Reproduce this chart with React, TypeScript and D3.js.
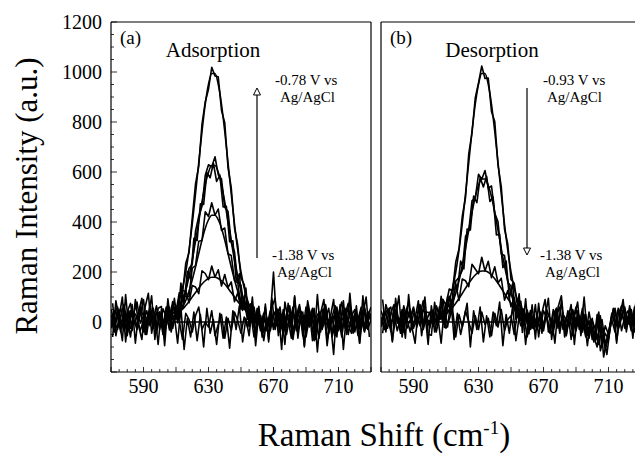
import React from "react";
import * as d3 from "d3";

// Raman shift grids for the measured spectra (cm-1)
const specStart = 570;
const specStartOdd = 571;
const specStep = 2;

// Panel (a) Adsorption – measured spectra (intensity, a.u.)
const specA1 = [30, -20, 55, 10, -35, 40, 75, -10, 20, 60, -40, 15, 50, -25, 35,
  22, -25, 55, 8, 71, 38, 117, 115, 235, 277, 417, 552, 623, 792, 881, 931, 1019, 984, 981, 846, 797, 618, 537, 377, 307, 175, 150, 57, 73, -9, 43, -25, 35, -18,
  45, -30, 20, 60, -45, 10, 35, -60, 25, 70, -20, 5, 50, -75, 15, 40, -30, 65, -10, 20, -55, 30, 80, -25, 10, 45, -40, 25, -15, 55, 0, 35];
const specA2 = [-15, 45, 20, -40, 60, 5, -25, 35, 80, -5, 25, -50, 40, 10, 65,
  -29, 53, 21, -23, 65, 44, 31, 126, 123, 214, 231, 363, 423, 463, 587, 629, 621, 661, 589, 572, 458, 443, 318, 281, 159, 148, 51, 81, 14, 60, -18, 26, -42, 16,
  -35, 25, 55, -10, 30, -50, 20, 45, -25, 60, 15, -40, 35, 5, -70, 25, 50, -15, 10, -45, 40, 20, -60, 30, 75, -30, 15, -5, 45, -35, 20, 60];
const specA3 = [50, 5, -30, 25, 70, -45, 15, 40, -20, 30, 90, -15, 20, 55, -35,
  41, -23, 35, -32, 69, 29, 10, 107, 102, 102, 215, 226, 323, 326, 441, 422, 477, 427, 452, 366, 376, 273, 266, 165, 157, 62, 97, 25, 54, -21, 33, -35, 17, -19,
  20, 200, -15, 40, -40, 25, 65, -30, 10, 50, -55, 30, -20, 45, 15, -65, 35, 70, -25, 0, 40, -35, 25, 55, -15, -45, 30, 10, 60, -20, 40, 5];
const specA4 = [-25, 35, 60, -10, 20, -55, 45, 10, -30, 50, 25, -20, 70, 5, 40,
  34, -28, 60, 10, 82, 10, 86, 59, 125, 77, 146, 140, 113, 205, 194, 169, 224, 179, 209, 144, 190, 138, 160, 81, 117, 50, 79, 11, 65, -3, 55, -20, 32, -36,
  30, -20, 45, 10, -50, 35, -5, 60, -35, 20, 40, -60, 15, 55, -25, 30, -10, 45, -45, 20, 65, -30, 5, 35, -50, 25, 50, -20, 10, -40, 30, 15];
const specA5 = [10, -40, 30, 55, -20, 15, -60, 40, 20, -35, 5, 45, -15, 25, -45,
  30, -50, 15, 60, -25, 40, 5, -70, 35, 10, -40, 25, 60, -30, 0, -20, 45, -55, -10, 30, -65, 15, -35, 40, 5, -45, 20, -20, 35, -60, 10, 25, -75, 15,
  -15, 40, 20, -40, 50, -20, 10, -70, 35, 25, -30, 60, -5, 20, -50, 40, -25, 15, 55, -60, -10, 30, -35, 45, 5, -20, 35, -55, 25, 60, -30, 10];
// odd-grid spectra (571..729)
const specA6 = [-60, 85, 10, -75, 110, -30, 70, -85, 40, 95, -50, 20, 105, -70, 55,
  62, -66, 93, -16, 95, -4, 156, 81, 203, 171, 335, 326, 473, 470, 598, 577, 635, 562, 588, 460, 463, 321, 325, 166, 193, 46, 136, -19, 100, -66, 63, -61, 72,
  -80, 60, 95, -55, 30, -90, 75, -20, 100, -65, 40, -100, 85, 15, -75, 110, -40, 50, -95, 20, 90, -60, 70, -110, 35, 80, -45, 65, -85, 105, -25, 45];
const specA7 = [75, -55, 20, 100, -80, 45, -35, 90, -15, -70, 60, 115, -45, 30, -90,
  50, -95, 70, -40, 25, -85, 60, -110, 15, -60, 40, -75, 30, -100, 55, -45, 10, -90, 35, -65, 20, -105, 45, -30, 65, -80, 15, -55, 70, -95, 40, -20, 60,
  -70, 95, -30, 50, -110, 80, 10, -65, 105, -40, 25, -95, 70, -15, 55, -120, 35, 90, -75, 5, -130, 60, -20, 85, -50, 115, -35, 45, -85, 30, 100, -60];

// Panel (b) Desorption – measured spectra
const specB1 = [20, -30, 45, 60, -15, 25, -45, 35, 5, 50, -25, 15, 70, -10, 40,
  37, -15, 65, 28, 91, 68, 132, 125, 240, 292, 422, 497, 673, 757, 896, 956, 1024, 974, 976, 841, 802, 628, 542, 372, 312, 170, 155, 62, 83, -4, 38, -30, 30, -28,
  35, -20, 50, 10, -40, 25, 60, -30, 15, 45, -55, 20, -10, 55, -45, 5, -70, -35, -90, -20, -110, -60, 10, -40, 30, 65, -25, 20, 50, -15, 40, 10];
const specB2 = [-10, 40, 15, -35, 55, 30, -20, 65, 10, -40, 35, 20, -15, 50, 25,
  -24, 48, -4, 61, -2, 71, 61, 50, 163, 179, 206, 342, 366, 485, 494, 591, 571, 606, 536, 544, 435, 401, 272, 266, 159, 143, 45, 71, 6, 53, -9, 46, -27, 21,
  -25, 45, 15, -45, 30, 55, -15, 20, -50, 40, 5, 60, -30, 25, -60, -20, 15, -75, -40, 10, -85, -50, 35, -10, 55, -35, 20, 45, -20, 60, 5, -40];
const specB3 = [45, 10, -25, 35, 70, -5, 20, -40, 50, 15, 60, -20, 30, 85, 5,
  40, -17, 62, 23, 90, 15, 103, 73, 151, 86, 172, 165, 141, 231, 212, 193, 259, 204, 243, 177, 221, 156, 175, 87, 126, 61, 98, 18, 65, -15, 48, -23, 28, -25,
  20, -35, 40, 15, -25, 55, -45, 30, 10, -20, 50, -35, 25, 5, -55, 40, -30, -60, 15, -95, -45, -70, 20, 45, -30, 15, 60, -10, 30, -40, 25, 50];
const specB4 = [-20, 25, 50, -5, 30, -35, 15, 45, -25, 10, 55, -10, 35, -30, 20,
  -15, 35, -40, 20, 50, -25, 10, 55, -60, 30, -20, 45, 0, -45, 25, -30, 40, -10, 15, -55, 35, -20, 50, -35, 10, 25, -50, 40, -15, 20, -60, 30, 5, -30,
  40, -10, 25, -35, 50, 10, -20, 35, -55, 20, 45, -25, 15, -40, 30, -65, 5, -30, 40, -80, -15, -50, 25, 55, -20, 35, -5, 20, -35, 45, 10, -25];
// odd-grid spectra (571..729)
const specB5 = [90, -40, 55, -75, 20, 105, -60, 35, 80, -20, -85, 60, 15, 100, -50,
  -53, 79, -13, 103, -22, 103, 31, 173, 126, 244, 212, 372, 368, 504, 477, 578, 540, 583, 482, 499, 348, 352, 217, 244, 96, 153, 11, 113, -42, 93, -48, 69, -68,
  75, -45, 20, 95, -70, 40, -25, 85, -60, 10, 70, -90, 45, -35, 100, -55, -20, -80, 30, -115, -60, -130, -25, 55, -75, 20, 90, -40, 65, -10, 80, -50];
const specB6 = [-45, 70, 25, -80, 95, -15, 50, -65, 110, -30, 15, 85, -55, 40, -90,
  65, -40, 20, -85, 55, -20, 90, -70, 35, -50, 10, 75, -100, 45, -30, 60, -80, 25, -60, 40, -15, 80, -95, 30, -45, 65, -75, 20, 55, -90, 35, -25, 70,
  -60, 35, 90, -40, 15, -85, 60, 105, -30, 45, -70, 20, 80, -55, 30, -95, 10, -60, -100, 25, -140, -70, -10, 50, -85, 35, 75, -30, 55, -65, 95, -20];

// Fitted curves (smooth), panel (a): start 600 cm-1, step 2
const fitAStart = 600;
const fitA1 = [2, 5, 10, 18, 31, 53, 87, 135, 200, 287, 392, 512, 638, 762, 871, 951, 994, 994, 951, 871, 762, 638, 512, 392, 287, 200, 135, 87, 53, 31, 18, 10, 5, 2];
const fitA2 = [1, 3, 6, 11, 20, 33, 55, 85, 126, 181, 247, 323, 402, 480, 549, 599, 626, 626, 599, 549, 480, 402, 323, 247, 181, 126, 85, 55, 33, 20, 11, 6, 3, 1];
const fitA3 = [1, 2, 4, 8, 13, 23, 37, 58, 86, 123, 169, 220, 274, 328, 375, 409, 427, 427, 409, 375, 328, 274, 220, 169, 123, 86, 58, 37, 23, 13, 8, 4, 2, 1];
const fitA4 = [4, 7, 9, 14, 21, 28, 39, 51, 66, 82, 100, 118, 135, 152, 165, 174, 179, 179, 174, 165, 152, 135, 118, 100, 82, 66, 51, 39, 28, 21, 14, 9, 7, 4];
const fitA5Start = 606;
const fitA5 = [0, 0, 0, 0, 0, 0, 0, 0, 0, 0, 0, 0, 0, 0, 0, 0, 0, 0, 0, 0, 0, 0, 0, 0, 0, 0, 0, 0];

// Fitted curves, panel (b): start 580 cm-1, step 2
const fitBStart = 580;
const fitB1 = [0, 0, 0, 0, 0, 0, 0, 0, 0, 1, 2, 5, 10, 18, 31, 53, 87, 135, 200, 287, 392, 512, 638, 762, 871, 951, 994, 994, 951, 871, 762, 638, 512, 392, 287, 200, 135, 87, 53, 31, 18, 10, 5, 2];
const fitB2 = [0, 0, 0, 0, 0, 0, 0, 0, 0, 1, 1, 3, 6, 10, 18, 30, 50, 78, 115, 165, 225, 294, 367, 438, 501, 547, 572, 572, 547, 501, 438, 367, 294, 225, 165, 115, 78, 50, 30, 18, 10, 6, 3, 1];
const fitB3 = [0, 0, 1, 1, 1, 2, 2, 3, 3, 4, 5, 7, 11, 16, 23, 33, 44, 58, 75, 94, 114, 135, 155, 173, 188, 199, 204, 204, 199, 188, 173, 155, 135, 114, 94, 75, 58, 44, 33, 23, 16, 11, 7, 5];
const fitB4 = [0, 0, 0, 0, 0, 0, 0, 0, 0, 0, 0, 0, 0, 0, 0, 0, 0, 0, 0, 0, 0, 0, 0, 0, 0, 0, 0, 0, 0, 0, 0, 0, 0, 0, 0, 0, 0, 0];

// Axes
const xDomain = [570, 730];
const yDomain = [-200, 1200];
const xTickLabels = [590, 630, 670, 710];
const yTickLabels = [0, 200, 400, 600, 800, 1000, 1200];

const FONT = '"Liberation Serif", "Times New Roman", Times, serif';

type Series = { start: number; step: number; values: number[]; smooth: boolean };

function toPts(s: Series): [number, number][] {
  return s.values.map((v, i) => [s.start + i * s.step, v]);
}

function Panel(props: {
  left: number;
  width: number;
  top: number;
  bottom: number;
  id: string;
  series: Series[];
  leftAxis: boolean;
  rightBorder: boolean;
}) {
  const { left, width, top, bottom, id, series, leftAxis, rightBorder } = props;
  const x = d3.scaleLinear().domain(xDomain).range([left, left + width]);
  const y = d3.scaleLinear().domain(yDomain).range([bottom, top]);
  const line = d3.line<[number, number]>().x((d) => x(d[0])).y((d) => y(d[1]));
  const smoothLine = d3
    .line<[number, number]>()
    .x((d) => x(d[0]))
    .y((d) => y(d[1]))
    .curve(d3.curveMonotoneX);
  const xMinor = d3.range(xDomain[0], xDomain[1] + 0.1, 5);
  const yMinor = d3.range(yDomain[0], yDomain[1] + 0.1, 50);
  const right = left + width;
  const tf = { fontFamily: FONT, fontSize: 20 };
  return (
    <g>
      <defs>
        <clipPath id={id}>
          <rect x={left} y={top} width={width} height={bottom - top} />
        </clipPath>
      </defs>
      <g clipPath={`url(#${id})`}>
        {series.map((s, i) => (
          <path
            key={i}
            d={(s.smooth ? smoothLine : line)(toPts(s)) || ""}
            fill="none"
            stroke="#000"
            strokeWidth={1.6}
            strokeLinejoin="round"
          />
        ))}
      </g>
      {/* frame */}
      <line x1={left} x2={left} y1={top} y2={bottom} stroke="#000" strokeWidth={1.2} />
      <line x1={left} x2={Math.min(right, 640)} y1={top} y2={top} stroke="#000" strokeWidth={1.2} />
      <line x1={left} x2={Math.min(right, 640)} y1={bottom} y2={bottom} stroke="#000" strokeWidth={1.2} />
      {rightBorder && <line x1={right} x2={right} y1={top} y2={bottom} stroke="#000" strokeWidth={1.2} />}
      {/* x ticks */}
      {xMinor.map((v) => {
        const major = (v - 570) % 20 === 0;
        return (
          <line key={"xt" + v} x1={x(v)} x2={x(v)} y1={bottom} y2={bottom - (major ? 5 : 3)} stroke="#000" strokeWidth={0.8} />
        );
      })}
      {xTickLabels.map((v) => (
        <text key={"xl" + v} x={x(v)} y={bottom + 21} textAnchor="middle" style={tf}>
          {v}
        </text>
      ))}
      {leftAxis &&
        yMinor.map((v) => {
          const major = v % 200 === 0;
          return (
            <line key={"yt" + v} x1={left} x2={left + (major ? 6 : 3)} y1={y(v)} y2={y(v)} stroke="#000" strokeWidth={0.8} />
          );
        })}
      {leftAxis &&
        yTickLabels.map((v) => (
          <text key={"yl" + v} x={left - 9} y={y(v) + 7} textAnchor="end" style={tf}>
            {v}
          </text>
        ))}
    </g>
  );
}

function Arrow(props: { x: number; yTail: number; yTip: number }) {
  const { x, yTail, yTip } = props;
  const dir = yTip < yTail ? 1 : -1; // 1 = pointing up
  const hb = yTip + dir * 7;
  return (
    <g>
      <line x1={x} x2={x} y1={yTail} y2={hb} stroke="#000" strokeWidth={1.2} />
      <path d={`M${x},${yTip} L${x - 3.5},${hb} L${x + 3.5},${hb} Z`} fill="#fff" stroke="#000" strokeWidth={1} />
    </g>
  );
}

export default function App() {
  const top = 22;
  const bottom = 372;
  const S = (start: number, values: number[], smooth = false): Series => ({ start, step: specStep, values, smooth });
  const seriesA: Series[] = [
    S(specStartOdd, specA7),
    S(specStart, specA5),
    S(specStart, specA4),
    S(specStart, specA3),
    S(specStartOdd, specA6),
    S(specStart, specA2),
    S(specStart, specA1),
    S(fitA5Start, fitA5, true),
    S(fitAStart, fitA4, true),
    S(fitAStart, fitA3, true),
    S(fitAStart, fitA2, true),
    S(fitAStart, fitA1, true),
  ];
  const seriesB: Series[] = [
    S(specStartOdd, specB6),
    S(specStart, specB4),
    S(specStart, specB3),
    S(specStartOdd, specB5),
    S(specStart, specB2),
    S(specStart, specB1),
    S(fitBStart, fitB4, true),
    S(fitBStart, fitB3, true),
    S(fitBStart, fitB2, true),
    S(fitBStart, fitB1, true),
  ];
  const ann = { fontFamily: FONT, fontSize: 15 };
  const lab = { fontFamily: FONT, fontSize: 19 };
  const ttl = { fontFamily: FONT, fontSize: 21 };
  return (
    <svg
      width={635}
      height={462}
      viewBox="0 0 635 462"
      style={{ position: "absolute", left: 0, top: 0, background: "#fff" }}
    >
      <rect x={0} y={0} width={635} height={462} fill="#fff" />
      <Panel left={111} width={260} top={top} bottom={bottom} id="clipA" series={seriesA} leftAxis={true} rightBorder={true} />
      <Panel left={381} width={260} top={top} bottom={bottom} id="clipB" series={seriesB} leftAxis={false} rightBorder={false} />

      {/* panel labels */}
      <text x={120} y={44} style={lab}>(a)</text>
      <text x={213} y={57} textAnchor="middle" style={ttl}>Adsorption</text>
      <text x={390} y={44} style={lab}>(b)</text>
      <text x={492} y={57} textAnchor="middle" style={ttl}>Desorption</text>

      {/* annotations panel a */}
      <text x={275} y={85} style={ann}>-0.78 V vs</text>
      <text x={280} y={102} style={ann}>Ag/AgCl</text>
      <text x={272} y={260} style={ann}>-1.38 V vs</text>
      <text x={277} y={277} style={ann}>Ag/AgCl</text>
      <Arrow x={257} yTail={258} yTip={88} />

      {/* annotations panel b */}
      <text x={543} y={85} style={ann}>-0.93 V vs</text>
      <text x={547} y={102} style={ann}>Ag/AgCl</text>
      <text x={540} y={260} style={ann}>-1.38 V vs</text>
      <text x={545} y={277} style={ann}>Ag/AgCl</text>
      <Arrow x={527} yTail={88} yTip={255} />

      {/* axis titles */}
      <text
        transform="translate(37,196) rotate(-90)"
        textAnchor="middle"
        style={{ fontFamily: FONT, fontSize: 31 }}
      >
        Raman Intensity (a.u.)
      </text>
      <text x={384} y={446} textAnchor="middle" style={{ fontFamily: FONT, fontSize: 33 }}>
        Raman Shift (cm
        <tspan style={{ fontSize: 19 }} dy={-12}>-1</tspan>
        <tspan dy={12}>)</tspan>
      </text>
    </svg>
  );
}
